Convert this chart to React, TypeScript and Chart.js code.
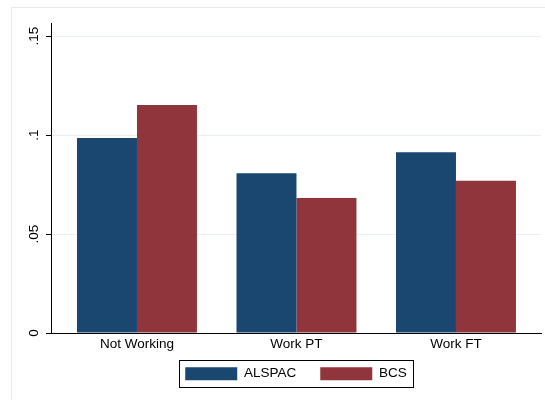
import React, { useEffect, useRef } from "react";
import { Chart, registerables } from "chart.js";

Chart.register(...registerables);

const categories = ["Not Working", "Work PT", "Work FT"];
const alspacValues = [0.0985, 0.0807, 0.0913];
const bcsValues = [0.1152, 0.0682, 0.0769];
const yTickValues = [0, 0.05, 0.1, 0.15];
const seriesNames = ["ALSPAC", "BCS"];

const FONT = "'Liberation Sans', Arial, sans-serif";
const FSIZE = 13.5;

const framePlugin = {
  id: "frame",
  afterLayout(chart: any) {
    const lg = chart.legend;
    if (lg) {
      lg.top -= 14;
      lg.bottom -= 14;
    }
  },
  beforeDraw(chart: any) {
    const { ctx, width, height } = chart;
    ctx.save();
    ctx.fillStyle = "#ffffff";
    ctx.fillRect(0, 0, width, height);
    ctx.strokeStyle = "#e6ecef";
    ctx.lineWidth = 1;
    ctx.strokeRect(11.5, 7.5, width + 10, height + 10);
    ctx.restore();
  },
  afterDraw(chart: any) {
    const lg = chart.legend;
    if (!lg || !lg.legendHitBoxes || !lg.legendHitBoxes.length) return;
    const hb = lg.legendHitBoxes;
    const first = hb[0];
    const last = hb[hb.length - 1];
    const left = Math.round(first.left - 6) + 0.5;
    const right = Math.round(last.left + last.width + 6) + 0.5;
    const top = Math.round(first.top - 7) + 0.5;
    const bottom = Math.round(first.top + first.height + 6) + 0.5;
    const { ctx } = chart;
    ctx.save();
    ctx.strokeStyle = "#000000";
    ctx.lineWidth = 1;
    ctx.strokeRect(left, top, right - left, bottom - top);
    ctx.restore();
  },
};

export default function App() {
  const ref = useRef<HTMLCanvasElement | null>(null);

  useEffect(() => {
    document.body.style.margin = "0";
    const canvas = ref.current;
    if (!canvas) return;
    const chart = new Chart(canvas, {
      type: "bar",
      data: {
        datasets: [
          {
            label: seriesNames[0],
            data: alspacValues.map((v, i) => ({ x: i + 1, y: v })),
            backgroundColor: "#1a476f",
            borderWidth: 0,
          },
          {
            label: seriesNames[1],
            data: bcsValues.map((v, i) => ({ x: i + 1, y: v })),
            backgroundColor: "#90353b",
            borderWidth: 0,
          },
        ],
      },
      options: {
        responsive: false,
        animation: false,
        events: [],
        layout: { padding: { left: 0, right: 4, top: 23, bottom: 0 } },
        datasets: {
          bar: { categoryPercentage: 0.752, barPercentage: 1 },
        },
        scales: {
          x: {
            type: "linear",
            offset: false,
            min: 0.461,
            max: 3.533,
            afterBuildTicks(scale: any) {
              scale.ticks = categories.map((_, i) => ({ value: i + 1 }));
            },
            afterFit(scale: any) {
              scale.height = 24;
            },
            grid: { display: false, drawTicks: false },
            border: { display: true, color: "#000000", width: 1 },
            ticks: {
              padding: 3,
              autoSkip: false,
              maxRotation: 0,
              color: "#000000",
              font: { family: FONT, size: FSIZE },
              callback: (v: any) => categories[Math.round(Number(v)) - 1] ?? "",
            },
          },
          y: {
            min: 0,
            max: 0.1566,
            afterBuildTicks(scale: any) {
              scale.ticks = yTickValues.map((v) => ({ value: v }));
            },
            afterFit(scale: any) {
              scale.width = 51;
            },
            grid: {
              color: (c: any) => (c.tick && c.tick.value === 0 ? "rgba(0,0,0,0)" : "#e8eff1"),
              tickColor: "#000000",
              tickLength: 5,
              lineWidth: 1,
            },
            border: { display: true, color: "#000000", width: 1 },
            ticks: {
              minRotation: 90,
              maxRotation: 90,
              crossAlign: "center",
              padding: 2,
              color: "#000000",
              font: { family: FONT, size: FSIZE },
              callback: (v: any) => {
                const n = Number(v);
                if (n === 0) return "0";
                return String(n).replace(/^0/, "");
              },
            },
          },
        },
        plugins: {
          legend: {
            display: true,
            position: "bottom",
            fullSize: false,
            maxHeight: 43,
            labels: {
              boxWidth: 52,
              boxHeight: 13,
              padding: 24,
              color: "#000000",
              font: { family: FONT, size: FSIZE },
            },
          },
          tooltip: { enabled: false },
        },
      },
      plugins: [framePlugin],
    } as any);
    return () => chart.destroy();
  }, []);

  return (
    <div style={{ width: 545, height: 400 }}>
      <canvas ref={ref} width={545} height={400} style={{ display: "block" }} />
    </div>
  );
}
